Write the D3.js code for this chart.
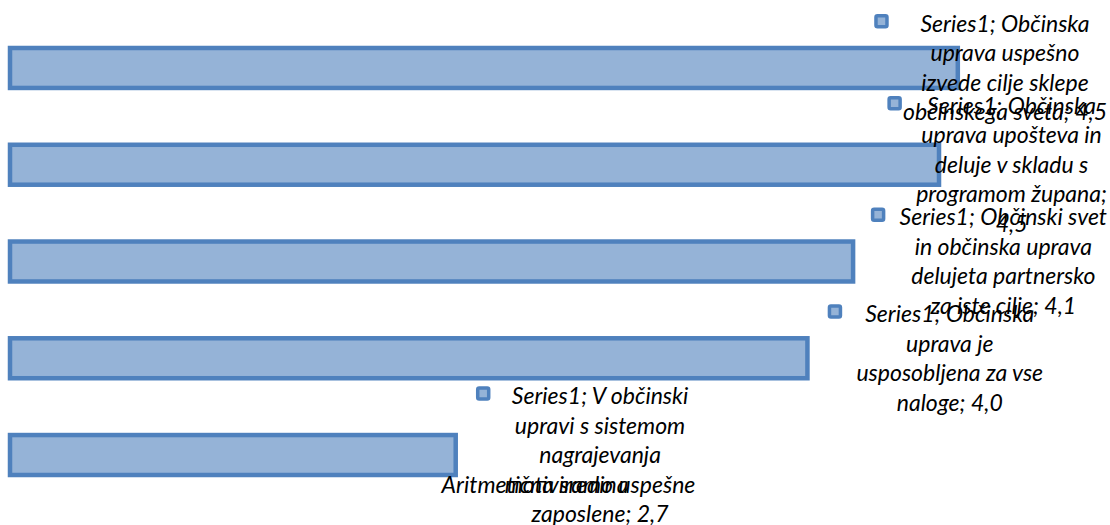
<!DOCTYPE html>
<html>
<head>
<meta charset="utf-8">
<script src="https://cdn.jsdelivr.net/npm/d3@7"></script>
<style>
  body { margin: 0; background: #fff; }
  text { font-family: Lato, "Open Sans", sans-serif; font-style: italic; fill: #000; }
</style>
</head>
<body>
<div id="chart"></div>
<script>
// data
var seriesName = "Series1";
var categories = [
    "Občinska uprava uspešno izvede cilje sklepe občinskega sveta",
    "Občinska uprava upošteva in deluje v skladu s programom župana",
    "Občinski svet in občinska uprava delujeta partnersko za iste cilje",
    "Občinska uprava je usposobljena za vse naloge",
    "V občinski upravi s sistemom nagrajevanja motiviramo uspešne zaposlene"
];
var values = [4.53, 4.46, 4.14, 3.97, 2.66];
// words per line of each wrapped data label, as in the reference
var labelWordsPerLine = [
    [2, 2, 3, 3],
    [2, 3, 4, 2, 1],
    [3, 3, 2, 4],
    [2, 2, 3, 2],
    [3, 3, 1, 2, 2]
];
var xDomain = [1, 5];
var axisTitle = "Aritmetična sredina";

var width = 1110, height = 525;
var fontSize = 23, lineHeight = 29.5, rightLimit = 1107;

var svg = d3.select("#chart")
    .append("svg")
    .attr("width", width)
    .attr("height", height);

var x = d3.scaleLinear()
    .domain(xDomain)
    .range([10, 1084]);

var y = d3.scaleBand()
    .domain(categories)
    .range([19.6, 503.4])
    .paddingInner(0.587)
    .paddingOuter(0.2935);

// bars
svg.append("g")
    .selectAll("rect")
    .data(categories)
    .enter()
    .append("rect")
    .attr("x", x(xDomain[0]))
    .attr("y", function (d) { return y(d); })
    .attr("width", function (d, i) { return x(values[i]) - x(xDomain[0]); })
    .attr("height", y.bandwidth())
    .style("fill", "#95b3d7")
    .style("stroke", "#4f81bd")
    .style("stroke-width", 4.5);

// axis title
svg.append("text")
    .attr("x", 535)
    .attr("y", 493)
    .attr("text-anchor", "middle")
    .style("font-size", fontSize + "px")
    .text(axisTitle);

// helper to measure a string
var probe = svg.append("text").style("font-size", fontSize + "px");
function measure(s) {
    probe.text(s);
    return probe.node().getComputedTextLength();
}

function splitLines(s, counts) {
    var words = s.split(" "), lines = [], k = 0;
    counts.forEach(function (n) {
        lines.push(words.slice(k, k + n).join(" "));
        k += n;
    });
    return lines;
}

var fmt = function (v) { return d3.format(".1f")(v).replace(".", ","); };

// data labels
var labels = svg.append("g");
categories.forEach(function (c, i) {
    var txt = seriesName + "; " + c + "; " + fmt(values[i]);
    var lines = splitLines(txt, labelWordsPerLine[i]);
    var W = d3.max(lines, measure);
    var left = Math.min(x(values[i]) + 49, rightLimit - W);
    var cx = left + W / 2;
    var cy = y(c) + y.bandwidth() / 2;
    var firstY = cy - (lines.length - 1) * lineHeight / 2;

    var g = labels.append("g");
    g.append("rect")
        .attr("x", left - 27)
        .attr("y", firstY - 8)
        .attr("width", 11)
        .attr("height", 11)
        .attr("rx", 1.5)
        .style("fill", "#95b3d7")
        .style("stroke", "#4f81bd")
        .style("stroke-width", 3.5);

    g.selectAll("text")
        .data(lines)
        .enter()
        .append("text")
        .attr("x", cx)
        .attr("y", function (d, k) { return firstY + k * lineHeight + fontSize * 0.35; })
        .attr("text-anchor", "middle")
        .style("font-size", fontSize + "px")
        .text(function (d) { return d; });
});
probe.remove();
</script>
</body>
</html>
